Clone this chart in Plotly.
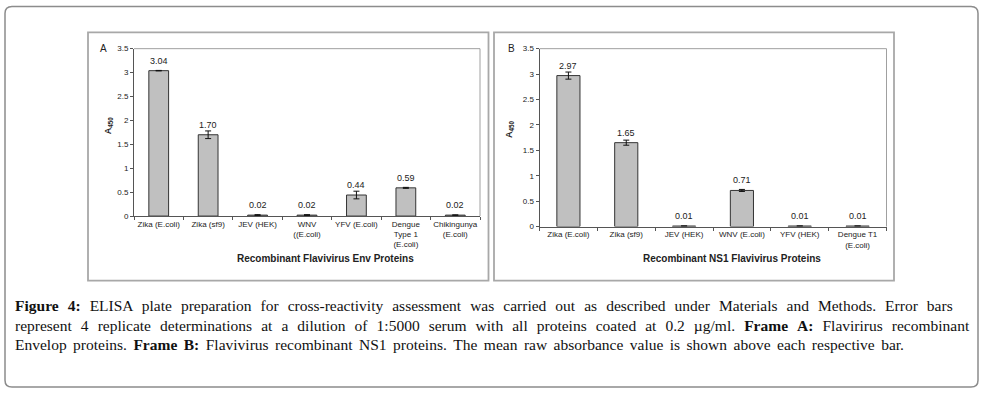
import plotly.graph_objects as go

W, H = 984, 396

# ---- data ----
cats_a = ["Zika (E.coli)", "Zika (sf9)", "JEV (HEK)", "WNV<br>((E.coli)", "YFV (E.coli)",
          "Dengue<br>Type 1<br>(E.coli)", "Chikingunya<br>(E.coli)"]
vals_a = [3.04, 1.70, 0.02, 0.02, 0.44, 0.59, 0.02]
err_a = [0.005, 0.08, 0.01, 0.01, 0.08, 0.01, 0.005]
labels_a = ["3.04", "1.70", "0.02", "0.02", "0.44", "0.59", "0.02"]

cats_b = ["Zika (E.coli)", "Zika (sf9)", "JEV (HEK)", "WNV (E.coli)", "YFV (HEK)", "Dengue T1<br>(E.coli)"]
vals_b = [2.97, 1.65, 0.01, 0.71, 0.01, 0.01]
err_b = [0.07, 0.05, 0.0, 0.02, 0.0, 0.0]
labels_b = ["2.97", "1.65", "0.01", "0.71", "0.01", "0.01"]

y_ticks = [0, 0.5, 1, 1.5, 2, 2.5, 3, 3.5]
y_ticktext = ["0", "0.5", "1", "1.5", "2", "2.5", "3", "3.5"]

title_a = "Recombinant Flavivirus Env Proteins"
title_b = "Recombinant NS1 Flavivirus Proteins"
caption_lines = [
    "<b>Figure 4:</b> ELISA plate preparation for cross-reactivity assessment was carried out as described under Materials and Methods. Error bars",
    "represent 4 replicate determinations at a dilution of 1:5000 serum with all proteins coated at 0.2 µg/ml. <b>Frame A:</b> Flavirirus recombinant",
    "Envelop proteins. <b>Frame B:</b> Flavivirus recombinant NS1 proteins. The mean raw absorbance value is shown above each respective bar.",
]
# extra inter-word spacing per caption line (to imitate justified text)
caption_gap = [" \u00a0\u200a", " \u00a0\u200a", " \u200a\u200a"]

# ---- helpers (pixel -> paper) ----
def px(x):
    return x / W

def py(y):
    return 1 - y / H

SANS = "Liberation Sans, Arial, sans-serif"
SERIF = "Liberation Serif, Times New Roman, serif"

# plot areas in pixels
A_L, A_R, A_T, A_B = 134, 480, 45.7, 217
B_L, B_R, B_T, B_B = 539.5, 886.5, 45.7, 227.7

fig = go.Figure()

bar_style = dict(marker=dict(color="#c0c0c0", line=dict(color="#333333", width=1)),
                 width=0.4, showlegend=False, hoverinfo="skip")

fig.add_trace(go.Bar(x=cats_a, y=vals_a, xaxis="x", yaxis="y",
                     error_y=dict(type="data", array=err_a, color="#111111", thickness=1, width=3),
                     **bar_style))
fig.add_trace(go.Bar(x=cats_b, y=vals_b, xaxis="x2", yaxis="y2",
                     error_y=dict(type="data", array=err_b, color="#111111", thickness=1, width=3),
                     **bar_style))

axis_common = dict(showgrid=False, zeroline=False, showline=True, linecolor="#555555",
                   linewidth=1, ticks="outside", ticklen=3, tickcolor="#555555",
                   tickfont=dict(family=SANS, size=8, color="#222222"))

fig.update_layout(
    width=W, height=H, margin=dict(l=0, r=0, t=0, b=0),
    paper_bgcolor="white", plot_bgcolor="white", bargap=0.6,
    xaxis=dict(domain=[px(A_L), px(A_R)], anchor="y", type="category", tickangle=0,
               tickson="boundaries", **axis_common),
    yaxis=dict(domain=[py(A_B), py(A_T)], anchor="x", range=[0, 3.5],
               tickvals=y_ticks, ticktext=y_ticktext, **axis_common),
    xaxis2=dict(domain=[px(B_L), px(B_R)], anchor="y2", type="category", tickangle=0,
                tickson="boundaries", **axis_common),
    yaxis2=dict(domain=[py(B_B), py(B_T)], anchor="x2", range=[0, 3.5],
                tickvals=y_ticks, ticktext=y_ticktext, **axis_common),
)

shapes = []
# outer rounded frame
x0, y0, x1, y1, r = 5, 2.5, 978, 392, 7
path = (f"M {px(x0+r)} {py(y0)} L {px(x1-r)} {py(y0)} Q {px(x1)} {py(y0)} {px(x1)} {py(y0+r)} "
        f"L {px(x1)} {py(y1-r)} Q {px(x1)} {py(y1)} {px(x1-r)} {py(y1)} "
        f"L {px(x0+r)} {py(y1)} Q {px(x0)} {py(y1)} {px(x0)} {py(y1-r)} "
        f"L {px(x0)} {py(y0+r)} Q {px(x0)} {py(y0)} {px(x0+r)} {py(y0)} Z")
shapes.append(dict(type="path", xref="paper", yref="paper", path=path,
                   line=dict(color="#8c8c8c", width=1.5)))
# panel boxes
for (l, t, rr, b) in [(88, 29, 488.5, 283), (494, 29, 894, 283)]:
    shapes.append(dict(type="rect", xref="paper", yref="paper",
                       x0=px(l), x1=px(rr), y0=py(b), y1=py(t),
                       line=dict(color="#a8a8a8", width=1.8)))
# plot-area top/right borders
for (l, t, rr, b) in [(A_L, A_T, A_R, A_B), (B_L, B_T, B_R, B_B)]:
    shapes.append(dict(type="line", xref="paper", yref="paper", x0=px(l), x1=px(rr),
                       y0=py(t), y1=py(t), line=dict(color="#a0a0a0", width=1)))
    shapes.append(dict(type="line", xref="paper", yref="paper", x0=px(rr), x1=px(rr),
                       y0=py(t), y1=py(b), line=dict(color="#a0a0a0", width=1)))
fig.update_layout(shapes=shapes)

ann = []
# value labels
for cats, vals, errs, labs, xa, ya in [(cats_a, vals_a, err_a, labels_a, "x", "y"),
                                      (cats_b, vals_b, err_b, labels_b, "x2", "y2")]:
    for c, v, e, t in zip(cats, vals, errs, labs):
        ann.append(dict(x=c, y=v, xref=xa, yref=ya, text=t, showarrow=False,
                        xanchor="center", yanchor="bottom", yshift=3,
                        font=dict(family=SANS, size=9, color="#222222")))

def paper_text(x, y, text, size=9, angle=0, family=SANS, xanchor="center"):
    return dict(x=px(x), y=py(y), xref="paper", yref="paper", text=text, textangle=angle,
                xanchor=xanchor, yanchor="middle", showarrow=False,
                font=dict(family=family, size=size, color="#222222"))

# axis titles
ann.append(paper_text(108, 124, "<b>A<sub>450</sub></b>", angle=-90))
ann.append(paper_text(509, 128, "<b>A<sub>450</sub></b>", angle=-90))
ann.append(paper_text(325, 260, f"<b>{title_a}</b>", size=10))
ann.append(paper_text(732, 260, f"<b>{title_b}</b>", size=10))
# panel letters
ann.append(paper_text(103, 46, "A", size=10))
ann.append(paper_text(511, 46, "B", size=10))
# caption
for i, line in enumerate(caption_lines):
    txt = line.replace(" ", caption_gap[i]).replace("<b" + caption_gap[i], "<b ")
    d = paper_text(13, 309 + 19.5 * i, txt, size=15.5, family=SERIF, xanchor="left")
    d["font"]["color"] = "#111111"
    ann.append(d)
fig.update_layout(annotations=ann)

fig.write_html("out.html", config={"displayModeBar": False},
               post_script="document.body.style.margin='0px';document.body.style.overflow='hidden';")
